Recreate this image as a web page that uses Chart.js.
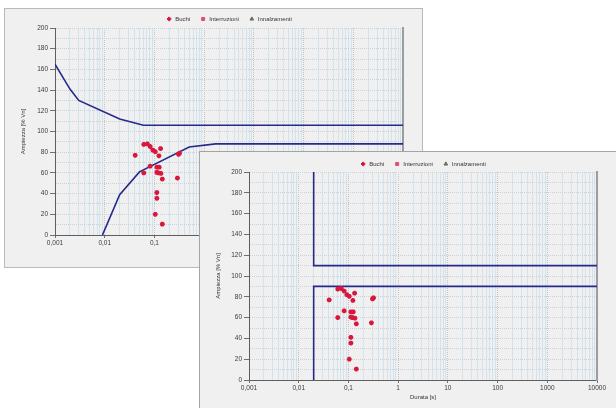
<!DOCTYPE html>
<html><head><meta charset="utf-8">
<script src="https://cdn.jsdelivr.net/npm/chart.js@4"></script>
<style>
html,body{margin:0;padding:0;background:#fff;overflow:hidden;width:616px;height:408px}
.panel{position:absolute;background:#f0f0f0;box-sizing:border-box}
canvas{position:absolute}
</style></head><body>
<div class="panel" style="left:4px;top:8px;width:419px;height:260px;border:1px solid #b9b9b9"></div>
<canvas id="c1" width="417" height="262" style="left:5px;top:6px"></canvas>
<div class="panel" style="left:199px;top:151px;width:430px;height:270px;border:1px solid #a4a4a4"></div>
<canvas id="c2" width="417" height="257" style="left:200px;top:151px"></canvas>
<script>
// ---- data ----
const seriesNames = ['Buchi', 'Interruzioni', 'Innalzamenti'];
const buchiDurata   = [0.041, 0.061, 0.072, 0.082, 0.093, 0.104, 0.133, 0.123, 0.061, 0.082, 0.112, 0.125, 0.112, 0.120, 0.135, 0.144, 0.290, 0.305, 0.320, 0.112, 0.112, 0.104, 0.144];
const buchiAmpiezza = [77, 87.5, 88, 85.5, 82, 80.5, 83.5, 76.5, 60, 66.5, 65.5, 65.5, 60.5, 60, 59.5, 54, 55, 78, 79, 41, 35.5, 20, 10.5];
const interruzioniDurata = [];
const interruzioniAmpiezza = [];
const innalzamentiDurata = [];
const innalzamentiAmpiezza = [];

// back chart limit curves
const backUpperX = [0.001, 0.002, 0.003, 0.02, 0.06, 10000];
const backUpperY = [165, 141, 130, 112, 106, 106];
const backLowerX = [0.009, 0.02, 0.05, 0.5, 1.7, 10000];
const backLowerY = [0, 39, 61, 85, 88, 88];
// front chart limit curves
const frontUpperX = [0.02, 0.02, 10000];
const frontUpperY = [200, 110, 110];
const frontLowerX = [0.02, 0.02, 10000];
const frontLowerY = [0, 90, 90];

// ticks
const xDecades = [0.001, 0.01, 0.1, 1, 10, 100, 1000, 10000];
const xTickLabels = ['0,001', '0,01', '0,1', '1', '10', '100', '1000', '10000'];
const xMinorMultipliers = [1, 2, 3, 4, 5, 6, 7, 8, 9];
const yGridValues = [0, 10, 20, 30, 40, 50, 60, 70, 80, 90, 100, 110, 120, 130, 140, 150, 160, 170, 180, 190, 200];
const yTickValues = [0, 20, 40, 60, 80, 100, 120, 140, 160, 180, 200];
const yTickLabels = ['0', '20', '40', '60', '80', '100', '120', '140', '160', '180', '200'];
const xTitle = 'Durata [s]';
const yTitle = 'Ampiezza [% Vn]';

// ---- helpers ----
const pts = (xs, ys) => xs.map((x, i) => ({x: x, y: ys[i]}));
const decadeIndex = v => xDecades.findIndex(d => Math.abs(Math.log10(v) - Math.log10(d)) < 1e-6);
const yLabelIndex = v => yTickValues.indexOf(v);
const xGridValues = [];
xDecades.forEach((d, i) => {
  if (i === xDecades.length - 1) { xGridValues.push(d); return; }
  xMinorMultipliers.forEach(m => xGridValues.push(+(m * d).toPrecision(6)));
});

const RED = '#d9173d';
const NAVY = '#26288a';
const legendStyles = ['rectRot', 'rect', 'triangle'];
const legendColors = [RED, '#e34c74', '#667058'];

Chart.defaults.font.family = '"Liberation Sans", Arial, sans-serif';
Chart.defaults.font.size = 6.5;
Chart.defaults.color = '#3a3a3a';

function makeChart(id, geo, lines) {
  const datasets = [
    {label: seriesNames[0], data: pts(buchiDurata, buchiAmpiezza), pointStyle: 'star',
     pointRadius: 2.4, pointBorderWidth: 1.6, borderColor: RED, backgroundColor: RED, showLine: false},
    {label: seriesNames[1], data: pts(interruzioniDurata, interruzioniAmpiezza), pointStyle: 'rect',
     borderColor: legendColors[1], backgroundColor: legendColors[1], showLine: false},
    {label: seriesNames[2], data: pts(innalzamentiDurata, innalzamentiAmpiezza), pointStyle: 'triangle',
     borderColor: legendColors[2], backgroundColor: legendColors[2], showLine: false}
  ];
  lines.forEach(l => datasets.push({label: '', data: pts(l[0], l[1]), showLine: true, pointRadius: 0,
    borderColor: NAVY, borderWidth: 1.6, fill: false, tension: 0}));

  return new Chart(document.getElementById(id), {
    type: 'scatter',
    data: {datasets: datasets},
    options: {
      responsive: false, animation: false, devicePixelRatio: 1, events: [],
      layout: {padding: {left: 0, right: geo.right, top: 0, bottom: 0}},
      plugins: {
        tooltip: {enabled: false},
        legend: {
          display: true, position: 'top', fullSize: false, maxHeight: geo.top,
          labels: {
            usePointStyle: true, boxHeight: 3, padding: 10, color: '#333',
            font: {size: 6},
            generateLabels(chart) {
              const items = Chart.defaults.plugins.legend.labels.generateLabels(chart).slice(0, 3);
              items.forEach((it, i) => {
                it.pointStyle = legendStyles[i];
                it.fillStyle = legendColors[i];
                it.strokeStyle = legendColors[i];
                it.lineWidth = 1;
              });
              return items;
            }
          }
        }
      },
      scales: {
        x: {
          type: 'logarithmic', position: 'bottom', min: 0.001, max: 10000,
          afterBuildTicks(s) { s.ticks = xGridValues.map(v => ({value: v})); },
          afterFit(s) { s.height = geo.xh; },
          ticks: {
            autoSkip: false, maxRotation: 0, padding: 1,
            callback(v) { const i = decadeIndex(v); return i >= 0 ? xTickLabels[i] : ''; }
          },
          grid: {
            color: c => (c.tick && decadeIndex(c.tick.value) >= 0) ? '#bcc4cc' : '#d3e3ee',
            lineWidth: 1, tickLength: 3,
            tickColor: c => (c.tick && decadeIndex(c.tick.value) >= 0) ? '#707070' : 'rgba(0,0,0,0)'
          },
          border: {color: '#5e5e5e', width: 1,
            dash: c => (c.tick && decadeIndex(c.tick.value) >= 0) ? [1, 1] : []},
          title: {display: true, text: xTitle, font: {size: 6}, color: '#333', padding: {top: 0, bottom: 7}}
        },
        y: {
          type: 'linear', position: 'left', min: 0, max: 200,
          afterBuildTicks(s) { s.ticks = yGridValues.map(v => ({value: v})); },
          afterFit(s) { s.width = geo.left; },
          ticks: {
            autoSkip: false, padding: 2,
            callback(v) { const i = yLabelIndex(v); return i >= 0 ? yTickLabels[i] : ''; }
          },
          grid: {
            color: '#cbd2d9', lineWidth: 1, tickLength: 5,
            tickColor: c => (c.tick && yLabelIndex(c.tick.value) >= 0) ? '#707070' : 'rgba(0,0,0,0)'
          },
          border: {color: '#5e5e5e', width: 1, dash: c => c.tick ? [1, 1] : []},
          title: {display: true, text: yTitle, font: {size: 6}, color: '#333', padding: {top: 14.4, bottom: 0}}
        },
        y2: {
          type: 'linear', position: 'right', min: 0, max: 1,
          afterFit(s) { s.width = 0; },
          ticks: {display: false},
          grid: {display: false, drawTicks: false},
          border: {display: true, color: '#9c9c9c', width: 2}
        }
      }
    }
  });
}

makeChart('c1', {left: 50, right: 19, top: 22, xh: 33},
  [[backUpperX, backUpperY], [backLowerX, backLowerY]]);
makeChart('c2', {left: 49, right: 20, top: 21, xh: 28},
  [[frontUpperX, frontUpperY], [frontLowerX, frontLowerY]]);
</script>
</body></html>
